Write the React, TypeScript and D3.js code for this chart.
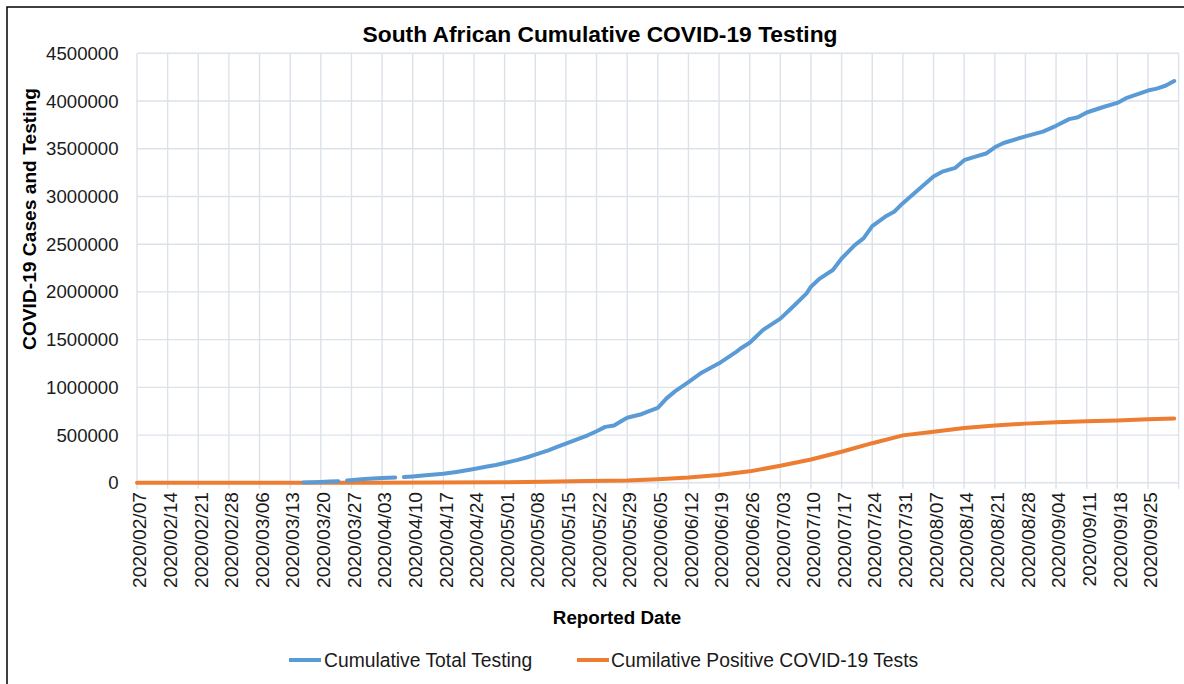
import React from "react";
import * as d3 from "d3";

const testDates = [
  "2020-03-16","2020-03-18","2020-03-20","2020-03-22","2020-03-24","2020-03-25",
  "2020-03-26","2020-03-28","2020-03-30","2020-04-01","2020-04-03","2020-04-06","2020-04-07",
  "2020-04-08","2020-04-10","2020-04-13","2020-04-15","2020-04-17","2020-04-20","2020-04-22",
  "2020-04-24","2020-04-27","2020-04-29","2020-05-01","2020-05-04","2020-05-06","2020-05-08",
  "2020-05-11","2020-05-13","2020-05-15","2020-05-18","2020-05-20","2020-05-22","2020-05-24",
  "2020-05-26","2020-05-28","2020-05-29","2020-06-01","2020-06-03","2020-06-05","2020-06-07",
  "2020-06-09","2020-06-12","2020-06-15","2020-06-19","2020-06-23","2020-06-24","2020-06-26",
  "2020-06-29","2020-07-03","2020-07-06","2020-07-09","2020-07-10","2020-07-12","2020-07-15",
  "2020-07-17","2020-07-20","2020-07-22","2020-07-24","2020-07-27","2020-07-29","2020-07-31",
  "2020-08-03","2020-08-07","2020-08-09","2020-08-12","2020-08-14","2020-08-16","2020-08-19",
  "2020-08-21","2020-08-23","2020-08-28","2020-09-01","2020-09-04","2020-09-07","2020-09-09",
  "2020-09-11","2020-09-15","2020-09-18","2020-09-20","2020-09-25","2020-09-27","2020-09-29",
  "2020-10-01",
];
const testValues: (number | null)[] = [
  3000, 6000, 9000, 13000, 17000, null,
  23000, 32000, 39000, 44000, 50000, 56000, null,
  60000, 67000, 78000, 86000, 95000, 114000, 128000,
  144000, 170000, 186000, 207000, 240000, 265000, 295000,
  340000, 376000, 411000, 462000, 498000, 540000, 586000,
  600000, 656000, 681000, 715000, 752000, 786000, 885000,
  960000, 1055000, 1154000, 1252000, 1374000, 1410000, 1468000,
  1600000, 1720000, 1850000, 1985000, 2055000, 2140000, 2230000,
  2350000, 2490000, 2560000, 2690000, 2790000, 2840000, 2930000,
  3050000, 3210000, 3260000, 3300000, 3380000, 3410000, 3450000,
  3515000, 3560000, 3630000, 3680000, 3740000, 3810000, 3830000,
  3880000, 3940000, 3980000, 4030000, 4110000, 4130000, 4160000,
  4210000,
];

const positiveDates = [
  "2020-02-07","2020-03-04","2020-03-15","2020-03-22","2020-03-31","2020-04-15","2020-04-30",
  "2020-05-10","2020-05-20","2020-05-29","2020-06-05","2020-06-12","2020-06-19","2020-06-26",
  "2020-07-03","2020-07-10","2020-07-17","2020-07-24","2020-07-31","2020-08-07","2020-08-14",
  "2020-08-21","2020-08-28","2020-09-04","2020-09-11","2020-09-18","2020-09-25","2020-10-01",
];
const positiveValues = [
  0, 0, 60, 300, 1400, 2500, 5600,
  10000, 18000, 25000, 38000, 55000, 82000, 120000,
  178000, 244000, 325000, 415000, 497000, 536000, 575000,
  601000, 620000, 634000, 645000, 653000, 665000, 673000,
];

const yTicks = [0, 500000, 1000000, 1500000, 2000000, 2500000, 3000000, 3500000, 4000000, 4500000];
const axisStart = "2020-02-07";
const axisEnd = "2020-10-02";

const title = "South African Cumulative COVID-19 Testing";
const yTitle = "COVID-19 Cases and Testing";
const xTitle = "Reported Date";
const seriesNames = ["Cumulative Total Testing", "Cumilative Positive COVID-19 Tests"];
const seriesColors = ["#5B9BD5", "#ED7D31"];

const FONT = "'Liberation Sans', Arial, Helvetica, sans-serif";

export default function App() {
  const parse = d3.utcParse("%Y-%m-%d");
  const fmt = d3.utcFormat("%Y/%m/%d");
  const left = 137, right = 1178.6, top = 53.3, bottom = 482.8;
  const x = d3.scaleUtc().domain([parse(axisStart)!, parse(axisEnd)!]).range([left, right]);
  const y = d3.scaleLinear().domain([0, 4500000]).range([bottom, top]);
  const ticks: Date[] = [];
  for (let d = parse(axisStart)!; d <= parse(axisEnd)!; d = d3.utcDay.offset(d, 7)) ticks.push(d);

  const testData = testDates.map((d, i) => ({ date: parse(d)!, value: testValues[i] }));
  const posData = positiveDates.map((d, i) => ({ date: parse(d)!, value: positiveValues[i] as number | null }));

  const line = d3
    .line<{ date: Date; value: number | null }>()
    .defined((d) => d.value !== null)
    .x((d) => x(d.date))
    .y((d) => y(d.value as number));

  const grid = "#dce1ea";
  return (
    <svg
      width={1184}
      height={684}
      style={{ position: "absolute", left: 0, top: 0, background: "#fff" }}
      fontFamily={FONT}
    >
      <rect x={0} y={0} width={1184} height={684} fill="#fff" />
      <rect x={7} y={7} width={1200} height={700} fill="none" stroke="#000" strokeWidth={1.5} />
      <text x={600} y={41.5} textAnchor="middle" fontSize={22.8} fontWeight="bold" fill="#000">
        {title}
      </text>
      {yTicks.map((t) => (
        <line key={"h" + t} x1={left} x2={right} y1={y(t)} y2={y(t)} stroke={grid} strokeWidth={1.4} />
      ))}
      {ticks.map((t, i) => (
        <line key={"v" + i} x1={x(t)} x2={x(t)} y1={top} y2={bottom + 6} stroke={grid} strokeWidth={1.4} />
      ))}
      {yTicks.map((t) => (
        <text key={"yl" + t} x={118.5} y={y(t)} dy="0.35em" textAnchor="end" fontSize={18.6} fill="#1a1a1a">
          {t}
        </text>
      ))}
      {ticks.slice(0, ticks.length - 1).map((t, i) => (
        <text
          key={"xl" + i}
          transform={`translate(${x(t) + 2.5},${492}) rotate(-90)`}
          dy="0.35em"
          textAnchor="end"
          fontSize={19.2}
          fill="#1a1a1a"
        >
          {fmt(t)}
        </text>
      ))}
      <text
        transform={`translate(29,219) rotate(-90)`}
        dy="0.35em"
        textAnchor="middle"
        fontSize={19.2}
        fontWeight="bold"
        fill="#000"
      >
        {yTitle}
      </text>
      <text x={617} y={624} textAnchor="middle" fontSize={18.8} fontWeight="bold" fill="#000">
        {xTitle}
      </text>
      <path d={line(posData) || ""} fill="none" stroke={seriesColors[1]} strokeWidth={4} strokeLinejoin="round" strokeLinecap="round" />
      <path d={line(testData) || ""} fill="none" stroke={seriesColors[0]} strokeWidth={4} strokeLinejoin="round" strokeLinecap="round" />
      <line x1={289} x2={321} y1={660} y2={660} stroke={seriesColors[0]} strokeWidth={4} />
      <text x={324} y={660} dy="0.35em" fontSize={19.3} fill="#1a1a1a">
        {seriesNames[0]}
      </text>
      <line x1={577} x2={609} y1={660} y2={660} stroke={seriesColors[1]} strokeWidth={4} />
      <text x={611} y={660} dy="0.35em" fontSize={19.3} fill="#1a1a1a">
        {seriesNames[1]}
      </text>
    </svg>
  );
}
